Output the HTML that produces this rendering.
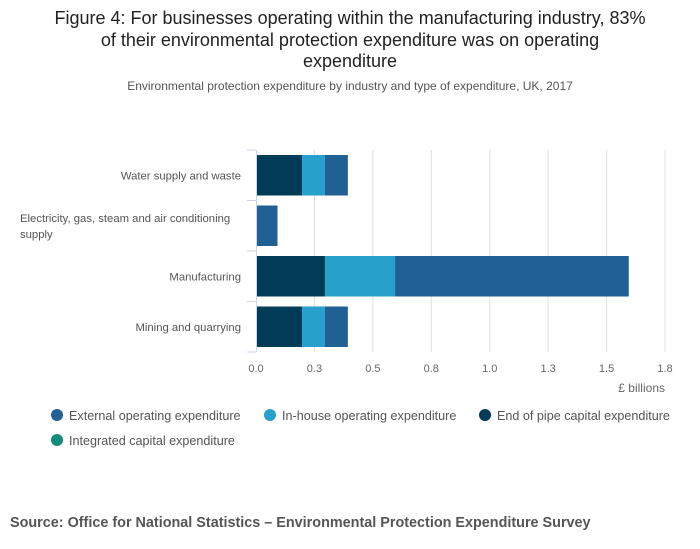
<!DOCTYPE html>
<html><head><meta charset="utf-8">
<style>
body{margin:0;background:#fff;font-family:"Liberation Sans",sans-serif;}
#wrap{position:relative;width:700px;height:549px;overflow:hidden;}
</style></head>
<body>
<div id="wrap">
<svg id="chart" width="700" height="549" xmlns="http://www.w3.org/2000/svg">
<text x="350" y="24" text-anchor="middle" font-size="18" fill="#222"><tspan x="350" y="24">Figure 4: For businesses operating within the manufacturing industry, 83%</tspan><tspan x="350" y="46">of their environmental protection expenditure was on operating</tspan><tspan x="350" y="67">expenditure</tspan></text>
<text x="350" y="90" text-anchor="middle" font-size="12" fill="#555">Environmental protection expenditure by industry and type of expenditure, UK, 2017</text>
<g id="grid"></g>
<g id="bars"></g>
<g id="axes"></g>
<text x="665" y="392" text-anchor="end" font-size="12" fill="#666">£ billions</text>
<g id="legend"></g>
<text x="10" y="527" font-size="14.4" font-weight="bold" fill="#555">Source: Office for National Statistics – Environmental Protection Expenditure Survey</text>
</svg>
</div>
<script>
const categories = ["Water supply and waste", "Electricity, gas, steam and air conditioning supply", "Manufacturing", "Mining and quarrying"];
const seriesNames = ["End of pipe capital expenditure", "In-house operating expenditure", "External operating expenditure"];
const endOfPipe = [0.197, 0, 0.295, 0.197];
const inHouse = [0.098, 0, 0.3, 0.098];
const external = [0.098, 0.092, 1.0, 0.098];
const tickValues = [0, 0.25, 0.5, 0.75, 1.0, 1.25, 1.5, 1.75];
const tickLabels = ["0.0", "0.3", "0.5", "0.8", "1.0", "1.3", "1.5", "1.8"];
const legendNames = ["External operating expenditure", "In-house operating expenditure", "End of pipe capital expenditure", "Integrated capital expenditure"];

const NS = "http://www.w3.org/2000/svg";
const X0 = 256, X1 = 665, XMAX = 1.75, YT = 150, YB = 352;
const band = (YB - YT) / categories.length;
function xs(v){ return X0 + v / XMAX * (X1 - X0); }
function yb(i){ return YT + i * band; }
function mk(tag, attrs, parent){ const e = document.createElementNS(NS, tag); for (const k in attrs) e.setAttribute(k, attrs[k]); parent.appendChild(e); return e; }

const grid = document.getElementById('grid');
const axes = document.getElementById('axes');
tickValues.forEach((v, i) => {
  if (v > 0) {
    const l = mk('line', {x1: xs(v), x2: xs(v), y1: YT, y2: YB, stroke: '#e0e0e0', 'stroke-width': 1}, grid);
    
    
  }
  const t = mk('text', {x: xs(v), y: 372, 'text-anchor': 'middle', 'font-size': 11, fill: '#666'}, axes);
  t.textContent = tickLabels[i];
  
  
});
const ax = mk('line', {x1: X0 + 0.5, x2: X0 + 0.5, y1: YT, y2: YB, stroke: '#ccd6eb', 'stroke-width': 1}, axes);


for (let i = 0; i <= categories.length; i++) {
  const tk = mk('line', {x1: X0 - 9, x2: X0, y1: yb(i), y2: yb(i), stroke: '#ccd6eb', 'stroke-width': 1}, axes);
  
  
}
const catLines = [["Water supply and waste"], ["Electricity, gas, steam and air conditioning", "supply"], ["Manufacturing"], ["Mining and quarrying"]];
categories.forEach((c, i) => {
  const cy = yb(i) + band / 2;
  const lines = catLines[i];
  const t = mk('text', {'font-size': 11.3, fill: '#555'}, axes);
  
  
  if (lines.length === 1) {
    t.setAttribute('x', 241); t.setAttribute('y', cy + 4); t.setAttribute('text-anchor', 'end');
    t.textContent = lines[0];
  } else {
    lines.forEach((ln, j) => {
      const s = mk('tspan', {x: 20, y: cy - 4 + j * 16}, t);
      s.textContent = ln;
    });
  }
});

const bars = document.getElementById('bars');
const colors = ["#003c57", "#27a0cc", "#206095"];
const series = [endOfPipe, inHouse, external];
categories.forEach((c, i) => {
  let acc = 0;
  series.forEach((arr, s) => {
    const v = arr[i];
    if (v > 0) {
      const r = mk('rect', {x: xs(acc), y: yb(i) + 5, width: xs(acc + v) - xs(acc), height: band - 10, fill: colors[s]}, bars);
      
      
    }
    acc += v;
  });
});

const legend = document.getElementById('legend');
const legColors = ["#206095", "#27a0cc", "#003c57", "#118c7b"];
const legPos = [[57, 416], [270, 416], [485, 416], [57, 441]];
legendNames.forEach((n, i) => {
  const g = mk('g', {}, legend);
  
  
  mk('circle', {cx: legPos[i][0], cy: legPos[i][1] - 1, r: 6, fill: legColors[i]}, g);
  const t = mk('text', {x: legPos[i][0] + 12, y: legPos[i][1] + 4, 'font-size': 12.6, fill: '#555'}, g);
  t.textContent = n;
});
</script>
</body></html>
